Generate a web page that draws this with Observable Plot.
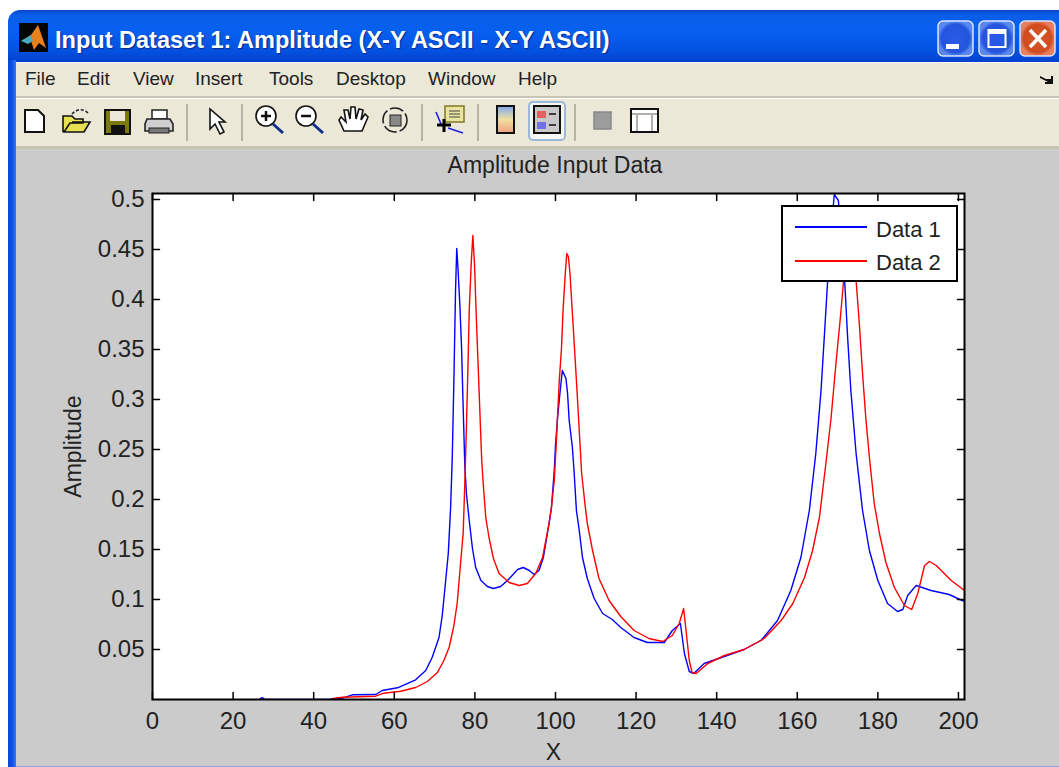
<!DOCTYPE html>
<html>
<head>
<meta charset="utf-8">
<script src="https://cdn.jsdelivr.net/npm/d3@7"></script>
<script src="https://cdn.jsdelivr.net/npm/@observablehq/plot@0.6"></script>
<style>
html,body{margin:0;padding:0;background:#fff;width:1059px;height:767px;overflow:hidden;font-family:"Liberation Sans",Arial,sans-serif}
#win{position:absolute;left:0;top:0;width:1059px;height:767px;overflow:hidden}
.abs{position:absolute}
#tbar{left:8px;top:10px;width:1051px;height:52px;border-radius:12px 0 0 0;background:linear-gradient(#0748c8 0,#0a5ee8 10%,#0660f0 40%,#0450e0 80%,#0340cc 100%)}
#lb{left:8px;top:60px;width:8px;height:707px;background:linear-gradient(90deg,#0a44d8,#0a50e8,#3a78ee)}
#menu{left:16px;top:63px;width:1043px;height:33px;background:#ebe8d8;border-bottom:2px solid #c8c4b4}
#tool{left:16px;top:98px;width:1043px;height:47px;background:#ebe8d8;border-top:1px solid #fff;border-bottom:3px solid #c8c4b4}
#fig{left:16px;top:149px;width:1043px;height:617px;background:#cbcbcb}
#bot{left:16px;top:766px;width:1043px;height:1px;background:#8aa8e8}
.m{position:absolute;top:68px;font-size:19px;color:#222;line-height:22px}
#ttl{left:55px;top:25px;font-weight:bold;font-size:24px;line-height:30px;color:#fff;text-shadow:1px 1px 1px #0a2a90;white-space:nowrap;transform-origin:0 50%;transform:scaleX(.98)}
#atitle{left:355px;width:400px;top:152px;text-align:center;font-size:23px;line-height:26px;color:#222}
#chart{position:absolute;left:0;top:0}
#legend{left:781px;top:205px;width:173px;height:73px;background:#fff;border:2px solid #000}
.ll{position:absolute;left:12px;width:72px;height:2px}
.lt{position:absolute;left:93px;font-size:22px;line-height:26px;color:#222;white-space:nowrap}
</style>
</head>
<body>
<div id="win">
  <div class="abs" id="tbar"></div>
  <div class="abs" id="lb"></div>
  <div class="abs" id="menu"></div>
  <div class="abs" id="tool"></div>
  <div class="abs" id="fig"></div>
  <div class="abs" id="bot"></div>
  <div class="abs" id="ttl">Input Dataset 1: Amplitude (X-Y ASCII - X-Y ASCII)</div>
  <svg class="abs" style="left:0;top:0" width="1059" height="150" id="chrome">
    <defs>
      <linearGradient id="bar" x1="0" y1="0" x2="0" y2="1"><stop offset="0" stop-color="#7fa8f0"/><stop offset=".5" stop-color="#f0e0a0"/><stop offset="1" stop-color="#f0a080"/></linearGradient>
      <radialGradient id="bl"><stop offset="0" stop-color="#2a5ce8"/><stop offset=".8" stop-color="#2454dc"/><stop offset="1" stop-color="#5a88ee"/></radialGradient>
      <radialGradient id="rd"><stop offset="0" stop-color="#d8582c"/><stop offset=".8" stop-color="#d04c20"/><stop offset="1" stop-color="#e88060"/></radialGradient>
    </defs>
    <rect x="19" y="23" width="29" height="29" fill="#050505"/>
    <path d="M21 41 L31 35 L38 25 L46 48 L39 43 L34 50 L31 41 Z" fill="#e8801c"/>
    <path d="M21 41 L31 35 L33 41 L28 44 Z" fill="#4aa8c0"/>
    <g stroke="#d8e4fc" stroke-width="1.5">
      <rect x="938" y="21" width="35" height="35" rx="5" fill="url(#bl)"/>
      <rect x="979" y="21" width="35" height="35" rx="5" fill="url(#bl)"/>
      <rect x="1020" y="21" width="35" height="35" rx="5" fill="url(#rd)"/>
    </g>
    <rect x="946" y="44" width="13" height="5" fill="#fff"/>
    <rect x="988.5" y="30" width="17" height="17" fill="none" stroke="#fff" stroke-width="2"/><rect x="988" y="29" width="18" height="5" fill="#fff"/>
    <path d="M1030 30 L1046 47 M1046 30 L1030 47" stroke="#fff" stroke-width="3.5"/>
    <path d="M1040 76 l6 3 l5 0 l0 -3 l2 0 l0 8 l-8 0 l0 -2 l3 0 l-8 -4 z" fill="#111"/>
    <g stroke="#b8b4a4" stroke-width="2"><path d="M187 104V141M242 104V141M422 104V141M478 104V141M575 104V141"/></g>
    <path d="M25 110H38L44 116V132H25Z" fill="#fff" stroke="#111" stroke-width="2"/>
    <path d="M63 132V116H72L75 119H83V123H70L64 132H84L90 122H72" fill="#e8e050" stroke="#111" stroke-width="1.6"/>
    <path d="M72 114Q80 106 88 113" fill="none" stroke="#222" stroke-width="1.6" stroke-dasharray="3 2"/>
    <rect x="105" y="110" width="25" height="24" fill="#7a7a10" stroke="#111" stroke-width="2"/><rect x="110" y="111" width="15" height="10" fill="#ebe8d8"/><rect x="111" y="125" width="14" height="9" fill="#111"/>
    <rect x="152" y="110" width="15" height="9" fill="#fff" stroke="#222" stroke-width="1.5"/><path d="M147 119H170L173 124V131H145V124Z" fill="#d0d0d0" stroke="#222" stroke-width="1.6"/><rect x="149" y="128" width="20" height="5" fill="#777" stroke="#222"/>
    <path d="M210 109V129L215 124L220 134L224 132L219 122L225 122Z" fill="#fff" stroke="#111" stroke-width="1.6"/>
    <g fill="#fff" stroke="#111" stroke-width="1.6"><circle cx="266" cy="116" r="10"/><circle cx="306" cy="116" r="10"/></g>
    <path d="M273 124L283 133M313 124L323 133" stroke="#103090" stroke-width="3"/>
    <path d="M261 116H271M266 111V121M301 116H311" stroke="#111" stroke-width="2.5"/>
    <path d="M344 131L339 120L341 117L346 122L344 110L348 110L350 119L351 107L355 107L356 119L359 109L363 110L361 120L365 114L368 117L362 131Z" fill="#fff" stroke="#111" stroke-width="1.6"/>
    <circle cx="395" cy="120" r="12" fill="none" stroke="#222" stroke-width="1.6" stroke-dasharray="14 3"/>
    <rect x="390" y="115" width="11" height="11" fill="#888" stroke="#222"/>
    <rect x="445" y="106" width="19" height="16" fill="#e8e4a0" stroke="#807820" stroke-width="1.5"/><path d="M449 111H460M449 114H460M449 117H460" stroke="#444"/>
    <path d="M436 112L441 124M448 128L463 133" stroke="#2020e0" stroke-width="1.6"/>
    <path d="M444 119V132M437 125H451" stroke="#000" stroke-width="3"/>
    <rect x="497" y="106" width="17" height="27" fill="url(#bar)" stroke="#111" stroke-width="2"/>
    <rect x="529" y="102" width="36" height="38" rx="4" fill="#f6f6f2" stroke="#9ab8d8" stroke-width="2"/>
    <rect x="534" y="106" width="26" height="27" fill="#c8c8c8" stroke="#111" stroke-width="2"/>
    <rect x="537" y="111" width="9" height="7" fill="#e86060"/><rect x="537" y="122" width="9" height="7" fill="#7070e8"/>
    <path d="M549 114H556M549 125H556" stroke="#111" stroke-width="1.6"/>
    <rect x="594" y="112" width="17" height="17" fill="#9c9c9c" stroke="#888" stroke-width="1.5"/>
    <rect x="631" y="109" width="27" height="23" fill="#fff" stroke="#111" stroke-width="2"/><path d="M632 114H657M637 114V131M652 114V131" stroke="#b0b0b0" stroke-width="2"/>
  </svg>
  <div class="m" style="left:25px">File</div>
  <div class="m" style="left:77px">Edit</div>
  <div class="m" style="left:133px">View</div>
  <div class="m" style="left:195px">Insert</div>
  <div class="m" style="left:269px">Tools</div>
  <div class="m" style="left:336px">Desktop</div>
  <div class="m" style="left:428px">Window</div>
  <div class="m" style="left:518px">Help</div>
  <div id="chart"></div>
  <div class="abs" id="atitle">Amplitude Input Data</div>
  <div class="abs" id="legend">
    <div class="ll" style="top:19px;background:#0000ff"></div><div class="lt" style="top:10px">Data 1</div>
    <div class="ll" style="top:53px;background:#ff0000"></div><div class="lt" style="top:43px">Data 2</div>
  </div>
</div>
<script>
const seriesNames = ["Data 1", "Data 2"];
const seriesColors = ["#0000ff", "#ff0000"];
const xTicks = [0,20,40,60,80,100,120,140,160,180,200];
const yTicks = [0.05,0.1,0.15,0.2,0.25,0.3,0.35,0.4,0.45,0.5];
const xDomain = [0, 201.5];
const yDomain = [0, 0.506];

const data1X = [26.5,27.2,28,44,44.6,47,49.6,55.4,57,60.8,65.3,67.8,69.4,71.1,71.9,72.8,73.4,74,74.4,74.8,75.2,75.5,75.8,76.3,76.7,77.1,77.5,77.9,78.6,79.4,80.2,81.5,83.1,84.6,86.4,88.1,90.6,92,93.5,94.7,95.9,97,98.4,99,99.7,100,100.5,101.1,101.7,102.6,103,103.4,104.2,104.6,105.2,105.9,106.7,107.9,109.6,111.7,114.1,116.2,119.5,122.8,127,129,131,132,133.2,134.3,136.9,141.9,146.8,151,155.1,158.4,160.9,163,164.6,165.9,166.7,167.5,168.4,169.2,170.2,171,171.8,172.5,173.3,174.6,176.2,177.9,180,182.4,184.9,186.2,187.4,189.5,193.2,197.7,199.8,201.5];
const data1Y = [0,0.002,0,0,0.0007,0.0012,0.0047,0.005,0.009,0.0117,0.0197,0.029,0.042,0.062,0.084,0.121,0.146,0.194,0.244,0.321,0.409,0.451,0.432,0.392,0.351,0.291,0.234,0.206,0.179,0.151,0.132,0.119,0.113,0.111,0.113,0.119,0.13,0.132,0.129,0.125,0.129,0.142,0.176,0.192,0.229,0.254,0.281,0.306,0.329,0.321,0.306,0.279,0.252,0.229,0.189,0.169,0.142,0.121,0.101,0.086,0.08,0.072,0.062,0.057,0.057,0.069,0.076,0.046,0.028,0.026,0.036,0.043,0.05,0.059,0.079,0.109,0.142,0.189,0.246,0.309,0.362,0.416,0.47,0.505,0.499,0.46,0.416,0.362,0.309,0.246,0.189,0.149,0.119,0.096,0.088,0.09,0.104,0.114,0.109,0.105,0.101,0.098];
const data2X = [44.6,47.1,55.4,57.4,61.6,65.3,68.2,70.7,72.3,73.6,74.8,75.6,76.3,77.1,77.5,77.9,78.3,78.6,79.1,79.5,79.9,80.4,80.9,81.3,81.7,82.1,82.7,83.5,84.6,86,88.5,91,93,95.1,96.8,98.4,99,99.7,100.2,100.9,101.5,101.9,102.4,102.8,103.2,103.6,104.2,104.8,105.3,105.9,106.5,107.3,107.9,109.2,110.8,113.3,116.2,119.5,123.2,126.6,129,130.7,131.8,132.4,133.2,133.9,134.9,137.8,141.9,146.8,151.8,156,158.9,161.8,163.8,165.5,167.1,168.4,169.6,170.7,171.5,172.3,173,173.8,174.6,175.4,176.2,177,177.9,179.1,180.4,182,184.1,186.6,188.4,189.9,191.6,192.8,194.5,198.2,201.5];
const data2Y = [0.0007,0.0023,0.0033,0.0063,0.0083,0.012,0.018,0.027,0.039,0.052,0.074,0.096,0.129,0.167,0.216,0.272,0.336,0.389,0.437,0.464,0.436,0.377,0.324,0.281,0.239,0.214,0.182,0.162,0.141,0.126,0.117,0.114,0.116,0.126,0.142,0.176,0.192,0.219,0.256,0.316,0.352,0.391,0.424,0.446,0.443,0.426,0.386,0.346,0.312,0.269,0.226,0.196,0.176,0.149,0.121,0.099,0.083,0.069,0.061,0.058,0.064,0.076,0.091,0.069,0.039,0.027,0.026,0.036,0.044,0.05,0.061,0.079,0.096,0.122,0.149,0.182,0.236,0.282,0.336,0.382,0.419,0.45,0.46,0.45,0.419,0.376,0.326,0.282,0.242,0.196,0.166,0.137,0.112,0.094,0.09,0.106,0.134,0.138,0.134,0.119,0.109];

const tickLength = 7;
const tickShape = {draw(c, l) { c.moveTo(0, 0); c.lineTo(0, -l); }};
const tick = {length: tickLength, anchor: "start", shape: tickShape, stroke: "#000", strokeWidth: 1.5};
const chart = Plot.plot({
  width: 1059, height: 767,
  marginLeft: 152, marginRight: 95, marginTop: 193, marginBottom: 68,
  style: {background:"transparent", fontFamily:'"Liberation Sans",Arial,sans-serif', fontSize:"24px", color:"#222", overflow:"visible"},
  x: {domain: xDomain},
  y: {domain: yDomain},
  color: {domain: seriesNames, range: seriesColors},
  marks: [
    Plot.frame({fill:"#fff", stroke:"none"}),
    Plot.line(data1Y, {x:data1X, y:data1Y, stroke:()=>seriesNames[0], strokeWidth:1.4, clip:true}),
    Plot.line(data2Y, {x:data2X, y:data2Y, stroke:()=>seriesNames[1], strokeWidth:1.4, clip:true}),
    Plot.axisX({anchor:"bottom", ticks:xTicks, tickSize:0, tickPadding:12, label:null}),
    Plot.axisY({anchor:"left", ticks:yTicks, tickSize:0, tickPadding:8, tickFormat:d=>String(d), label:null}),
    Plot.vector(xTicks, {...tick, x:d=>d, frameAnchor:"bottom", rotate:0}),
    Plot.vector(xTicks, {...tick, x:d=>d, frameAnchor:"top", rotate:180}),
    Plot.vector(yTicks, {...tick, y:d=>d, frameAnchor:"left", rotate:90}),
    Plot.vector(yTicks, {...tick, y:d=>d, frameAnchor:"right", rotate:-90}),
    Plot.text(["X"], {text:d=>d, frameAnchor:"bottom", dx:-5, dy:60, fontSize:23, fill:"#222"}),
    Plot.text(["Amplitude"], {text:d=>d, frameAnchor:"left", textAnchor:"middle", rotate:-90, dx:-79, fontSize:23, fill:"#222"}),
    Plot.frame({stroke:"#000", strokeWidth:2})
  ]
});
document.getElementById("chart").appendChild(chart);
</script>
</body>
</html>
